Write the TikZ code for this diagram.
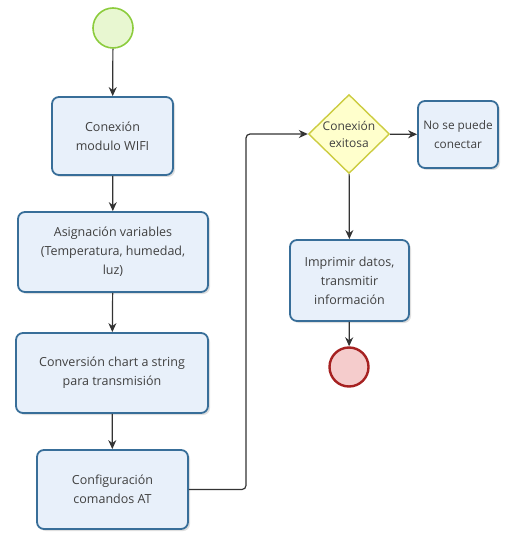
\documentclass[tikz,border=0pt]{standalone}
\usepackage{fontspec}
\setmainfont{Open Sans}
\definecolor{boxfill}{rgb}{0.91,0.94,0.98}
\definecolor{boxline}{rgb}{0.22,0.43,0.60}
\definecolor{gatefill}{rgb}{1.0,1.0,0.80}
\definecolor{gateline}{rgb}{0.80,0.80,0.25}
\definecolor{startfill}{rgb}{0.91,0.97,0.82}
\definecolor{startline}{rgb}{0.55,0.80,0.24}
\definecolor{endfill}{rgb}{0.96,0.80,0.80}
\definecolor{endline}{rgb}{0.65,0.13,0.13}
\usetikzlibrary{shapes.geometric,arrows.meta,shadows}

\begin{document}
\begin{tikzpicture}[x=1pt,y=-1pt]
      \tikzstyle{task} = [draw=boxline,line width=1.8pt,fill=boxfill,rounded corners=7pt,align=center,
        font=\fontsize{12.5}{19}\selectfont,text=black!75,
        drop shadow={opacity=0.25,shadow xshift=2pt,shadow yshift=-2pt}]
      \tikzstyle{gate} = [diamond,draw=gateline,line width=1.4pt,fill=gatefill,align=center,inner sep=0pt,
        minimum width=81pt,minimum height=78pt,font=\fontsize{12}{17}\selectfont,text=black!75]
      \tikzstyle{flow} = [line width=1.2pt,draw=black!80,-{Stealth[length=9pt,width=8pt]}]
      \useasboundingbox (0,0) rectangle (526,534);

      % start and end events
      \node[circle,draw=startline,line width=1.6pt,fill=startfill,minimum size=40pt] (start) at (113,28) {};
      \node[circle,draw=endline,line width=2.4pt,fill=endfill,minimum size=39pt] (finish) at (349,367) {};

      % left column
      \node[task,minimum width=121pt,minimum height=78pt] (wifi) at (112.5,136) {Conexión\\modulo WIFI};
      \node[task,minimum width=190pt,minimum height=80pt] (vars) at (113,252) {Asignación variables\\(Temperatura, humedad,\\luz)};
      \node[task,minimum width=192pt,minimum height=80pt] (conv) at (112,373) {Conversión chart a string\\para transmisión};
      \node[task,minimum width=151pt,minimum height=79pt] (cmdat) at (112.5,489.5) {Configuración\\comandos AT};

      % right column
      \node[gate] (ok) at (349,134) {Conexión\\exitosa};
      \node[task,minimum width=80pt,minimum height=67pt,inner sep=1pt,font=\fontsize{11.8}{19}\selectfont] (fail) at (458,134.5) {No se puede\\conectar};
      \node[task,minimum width=119pt,minimum height=81pt] (print) at (349.5,280.5) {Imprimir datos,\\transmitir\\información};

      \draw[flow] (start) -- (wifi);
      \draw[flow] (wifi) -- (vars);
      \draw[flow] (vars) -- (conv);
      \draw[flow] (conv) -- (cmdat);
      \draw[flow,rounded corners=4pt] (cmdat.east) -- (246,489.5) -- (246,134) -- (ok.west);
      \draw[flow] (ok) -- (fail);
      \draw[flow] (ok) -- (print);
      \draw[flow] (print) -- (finish);
    \end{tikzpicture}
\end{document}
